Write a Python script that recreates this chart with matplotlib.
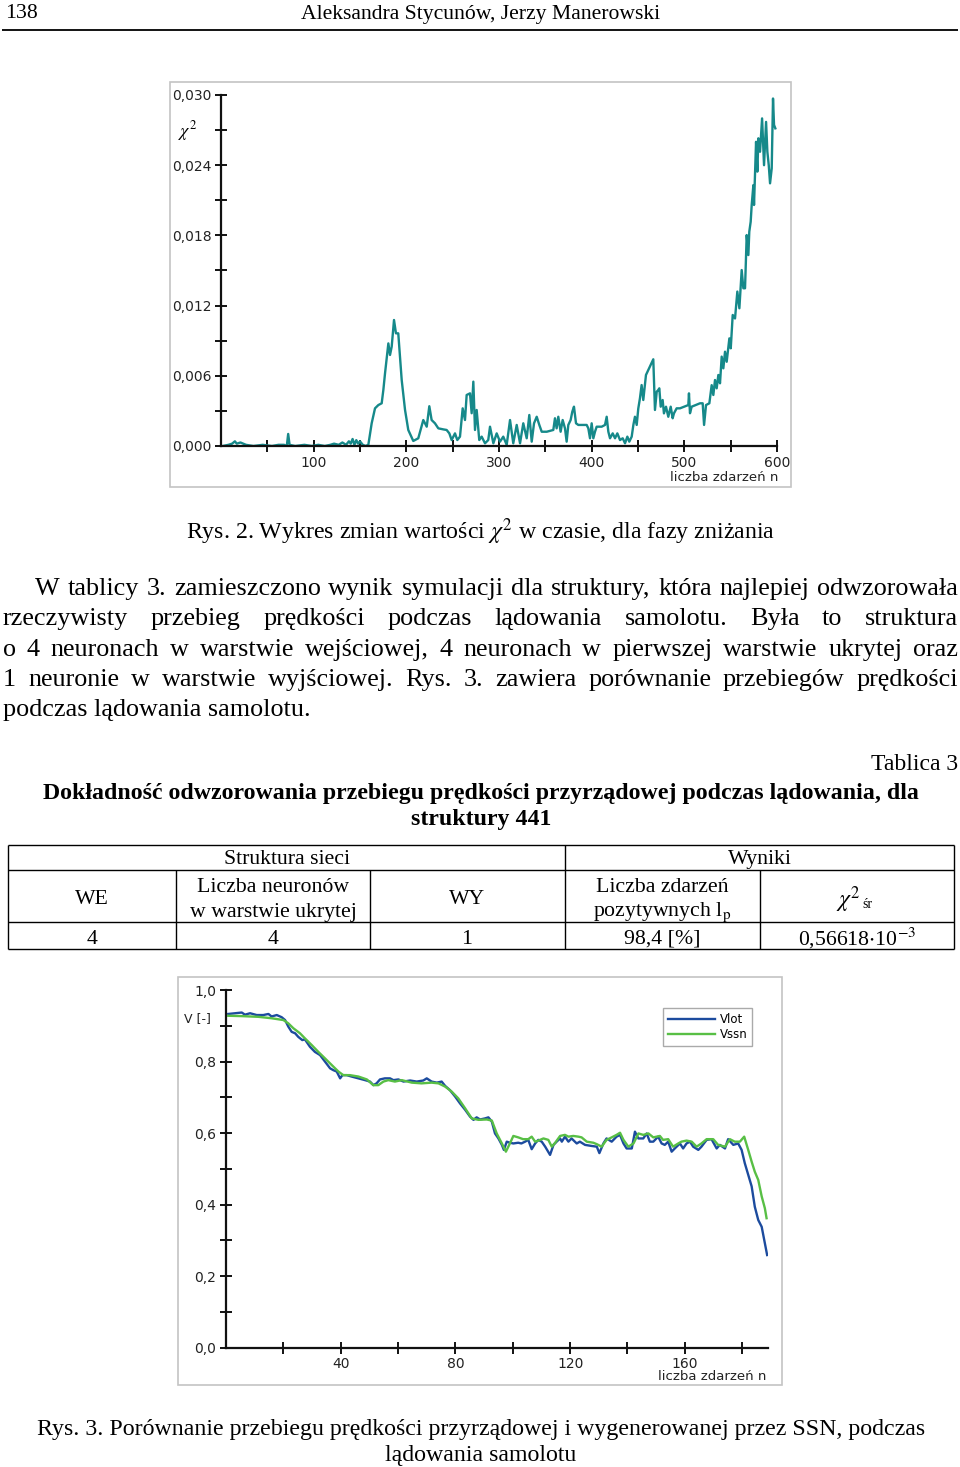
import matplotlib
matplotlib.use('Agg')
import matplotlib.pyplot as plt
from matplotlib.patches import Rectangle
from matplotlib.lines import Line2D
from matplotlib.ticker import FixedLocator, FuncFormatter

# ---------------- data ----------------
top_n = [2, 8, 12, 15, 17, 21, 27, 35, 45, 55, 62, 68, 71, 72.5, 74, 80, 90, 98, 105, 112,
         118, 122, 127, 131, 135, 138, 140, 142, 144, 146, 148, 150, 153, 156, 159,
         162.6, 166.2, 169.8, 173.4, 175.2, 177, 180.6, 182.4, 184.2, 186.7, 188.8, 191.3,
         193.2, 195, 198.6, 202.1, 207.5, 212.9, 218.3, 222, 224.8, 227.3, 230.9, 234.5,
         239.9, 243.5, 246.4, 248.9, 252.5, 255, 257.9, 260.8, 263.3, 265.1, 268.7, 270.5,
         272.3, 274.1, 275.9, 278.7, 281.3, 284.9, 288.4,
         290.3, 293.9, 297.5, 301.1, 304.6, 308.3, 311.9, 315.4, 319.1, 322.7, 326.2, 329.9,
         332.7, 335.3, 337.8, 340.7, 343.5, 346.1, 351.5,
         358.6, 360.4, 362.2, 364, 366.5, 368.7, 371.2, 373, 374.8, 377.3, 379.1, 380.9,
         383.1, 385.6, 394.6, 396.4, 398.2, 400, 401.8, 403.6, 405.4, 410.8, 414.4, 416.2,
         418, 419.8, 422.7, 425.2, 427.7, 430.6, 433.5, 436, 438.5, 440.6, 443.2, 445,
         446.7, 448.6, 450.3, 452.1, 453.9, 455.7, 458.6, 461.1, 466.5, 468.3, 470.2, 471.9,
         473, 474.5, 476.6, 478, 480.2, 482.7, 485.3, 487.4, 488.8, 491.7, 495.3, 504.3,
         505, 506.1, 507.9, 516.9,
         519.8, 521.3, 523.4, 527, 529.5, 531.3, 533.1, 534.9, 536.7, 538.5, 540.3, 542.1,
         543.9, 545.7, 548.6, 550.1, 552.2, 554.7, 557.2, 559.4, 561.9, 563.7, 565.5, 567.3,
         569.1, 570.1, 571.6, 572.7, 574.5, 575.2, 577.4, 578.8, 579.9, 581.7, 583.9, 586,
         588.2, 589.6, 591.1, 592.5, 594.3, 595.7, 596.8, 598.2]
top_chi2 = [0, 0.0001, 0.0002, 0.0004, 0.0002, 0.0003, 0.0001, 0, 0.0001, 0, 0.0001, 0.0001,
            0, 0.00103, 0.0001, 0, 0.0001, 0, 0.0001, 0, 0.0001, 0.0002, 0.0001, 0.0003,
            0.0001, 0.0004, 0.0002, 0.0006, 0.0001, 0.0005, 0.0002, 0.0004, 0.0001, 0, 0.0001,
            0.00194, 0.00322, 0.0035, 0.00365, 0.00479, 0.00621, 0.00877, 0.00778, 0.00849,
            0.01077, 0.00963, 0.00963, 0.00764, 0.00564, 0.00308, 0.00137, 0.00043, 0.00066,
            0.00222, 0.00165, 0.0034, 0.00222, 0.00194, 0.00151, 0.00142, 0.00137, 0.00108,
            0.00051, 0.00108, 0.00051, 0.0008, 0.00322, 0.00222, 0.00436, 0.0045, 0.0028,
            0.0055, 0.00137, 0.00308, 0.00051, 0.0008, 0.00023, 0.00051,
            0.00165, 0.00023, 0.00108, 0.00037, 0.0008, 0.0001, 0.00222, 0.00023, 0.0018,
            0.00023, 0.00194, 0.00066, 0.00265, 0.00037, 0.00194, 0.0025, 0.0018, 0.00122,
            0.00122,
            0.00137, 0.00237, 0.00151, 0.0025, 0.00122, 0.00222, 0.00151, 0.00037, 0.0018,
            0.00222, 0.00293, 0.00336, 0.00194, 0.0018, 0.0018, 0.00151, 0.00066, 0.00194,
            0.00066, 0.00122, 0.00165, 0.00165, 0.0018, 0.0025, 0.00122, 0.00066, 0.00108,
            0.00066, 0.00108, 0.00051, 0.00066, 0.00023, 0.0008, 0.00037, 0.0008, 0.0018,
            0.0025, 0.0018, 0.0032, 0.00408, 0.00521, 0.00393, 0.00607, 0.0065, 0.00741,
            0.00308, 0.00464, 0.00479, 0.00493, 0.00336, 0.00393, 0.00279, 0.00336, 0.0025,
            0.00336, 0.00237, 0.00279, 0.00322, 0.00322, 0.0035, 0.0045, 0.0028, 0.00336,
            0.00365,
            0.00365, 0.0018, 0.0035, 0.00365, 0.0052, 0.00436, 0.00564, 0.00493, 0.00607,
            0.00536, 0.00764, 0.00664, 0.00806, 0.0072, 0.0092, 0.00835, 0.0112, 0.0109,
            0.0132, 0.01177, 0.01504, 0.01348, 0.01348, 0.01803, 0.01632, 0.01832, 0.01917,
            0.0206, 0.0223, 0.0206, 0.026, 0.02345, 0.0263, 0.02515, 0.028, 0.024, 0.0277,
            0.02515, 0.024, 0.02245, 0.02373, 0.0297, 0.02744, 0.02715]

vlot_n = [0.8, 3.1, 5.5, 6.6, 8.4, 10.7, 13, 14.8, 15.9, 17.7, 19.4, 20.6, 21.7, 22.9, 24.1,
          25.2, 26.6, 27.5, 29.3, 31, 32.8, 34.5, 36.3, 37.4, 38.6, 39.8, 40.6, 42.1, 43.8,
          46.2, 48.5, 50.2, 51.4, 52.5, 53.7, 55.4, 57.2, 58.4, 60.1, 61.9, 64.2, 66.5, 68.8,
          70, 71.7, 73.5, 75.2, 76.4, 78.1, 79.9, 81.6, 83.4, 85.1, 86.3, 87.4, 88.6,
          90.3, 91.5, 92.7, 93.8, 95, 96.2, 96.9, 97.9, 99, 100.2, 101.9, 103, 104.3, 105.4,
          106.6, 107.8, 108.9, 110.1, 111.3, 113, 114.2, 115.3, 116.5, 117.1, 118.2, 119.4,
          120.5, 122.3, 123.4, 125.2, 127.5, 129.3, 130.2, 131.6, 132.7, 134.5, 136.2, 137.4,
          138.6, 139.7, 141.5, 142.6, 143.8, 145.5, 146.7, 147.8, 149, 150.7, 151.9, 153,
          154.2, 155.4, 156.5, 158.3, 159.4, 160.6, 161.8, 162.9, 164.7, 165.8, 167.6, 169.3,
          171.1, 172.2, 174, 175.1, 176.9, 178.6, 179.8, 180.9, 182.1, 183.3, 184.4, 185.6,
          186.8, 187.9, 188.7]
vlot = [0.933, 0.935, 0.937, 0.931, 0.935, 0.930, 0.930, 0.933, 0.926, 0.930, 0.924, 0.916,
        0.898, 0.883, 0.879, 0.869, 0.860, 0.862, 0.841, 0.827, 0.818, 0.800, 0.781, 0.776,
        0.772, 0.753, 0.762, 0.762, 0.758, 0.753, 0.748, 0.744, 0.734, 0.739, 0.750, 0.753,
        0.753, 0.748, 0.750, 0.744, 0.747, 0.744, 0.747, 0.753, 0.744, 0.741, 0.744, 0.732,
        0.720, 0.702, 0.683, 0.665, 0.646, 0.637, 0.644, 0.638,
        0.641, 0.644, 0.632, 0.599, 0.585, 0.567, 0.553, 0.576, 0.573, 0.571, 0.573, 0.571,
        0.576, 0.581, 0.555, 0.571, 0.581, 0.576, 0.562, 0.539, 0.567, 0.576, 0.585, 0.576,
        0.590, 0.576, 0.585, 0.571, 0.576, 0.567, 0.564, 0.562, 0.544, 0.571, 0.585, 0.576,
        0.590, 0.595, 0.571, 0.557, 0.557, 0.604, 0.585, 0.585, 0.599, 0.576, 0.576, 0.590,
        0.571, 0.567, 0.576, 0.548, 0.557, 0.571, 0.557, 0.571, 0.576, 0.562, 0.553, 0.562,
        0.581, 0.583, 0.557, 0.567, 0.557, 0.583, 0.567, 0.571, 0.553, 0.516, 0.483, 0.451,
        0.394, 0.357, 0.338, 0.292, 0.259]

vssn_n = [0.8, 5.5, 11.3, 15.9, 20, 21.7, 23.5, 25.8, 27.5, 29.9, 32.2, 34.5, 36.9, 39.2, 40.9,
          43.2, 46.2, 49.1, 51.4, 53.1, 54.9, 56.6, 58.9, 61.3, 64.8, 68.2, 71.7, 74.1, 76.4,
          78.7, 81, 83.4, 85.7, 88,
          90.9, 92.7, 94.4, 96.2, 97.6, 99, 100.2, 101.9, 103.6, 105.4, 106.6, 107.8, 108.9,
          110.7, 112.4, 113.6, 114.8, 116.5, 118.2, 119.4, 121.1, 122.9, 124, 125.8, 128.1,
          129.3, 131, 132.7, 134.5, 136.2, 137.4, 138.6, 140.3, 142.1, 143.8, 145.5, 147.3,
          149, 151.3, 152.4, 154.2, 155.9, 157.7, 158.8, 160.6, 162.4, 164.1, 165.8, 167.6,
          169.9, 171.6, 174, 175.7, 177.4, 179.2, 180.7, 182.1, 183.3, 184.4, 185.6, 186.8,
          187.9, 188.5]
vssn = [0.928, 0.927, 0.925, 0.921, 0.916, 0.907, 0.893, 0.879, 0.865, 0.846, 0.827, 0.809,
        0.790, 0.772, 0.762, 0.762, 0.758, 0.750, 0.734, 0.734, 0.744, 0.748, 0.744, 0.748,
        0.741, 0.739, 0.741, 0.739, 0.730, 0.716, 0.697, 0.669, 0.641, 0.637,
        0.638, 0.635, 0.599, 0.571, 0.548, 0.571, 0.592, 0.588, 0.583, 0.583, 0.590, 0.576,
        0.579, 0.585, 0.581, 0.562, 0.573, 0.592, 0.595, 0.590, 0.592, 0.590, 0.588, 0.576,
        0.573, 0.569, 0.562, 0.581, 0.588, 0.595, 0.601, 0.581, 0.562, 0.571, 0.599, 0.595,
        0.599, 0.588, 0.592, 0.581, 0.583, 0.562, 0.571, 0.576, 0.579, 0.576, 0.562, 0.571,
        0.583, 0.583, 0.567, 0.562, 0.583, 0.576, 0.576, 0.590, 0.553, 0.520, 0.492, 0.469,
        0.423, 0.390, 0.362]

top_yticks = [0.000, 0.006, 0.012, 0.018, 0.024, 0.030]
top_xticks = [100, 200, 300, 400, 500, 600]
bot_yticks = [0.0, 0.2, 0.4, 0.6, 0.8, 1.0]
bot_xticks = [40, 80, 120, 160]
series_labels = ['Vlot', 'Vssn']

body_lines = [
    "W tablicy 3. zamieszczono wynik symulacji dla struktury, która najlepiej odwzorowała",
    "rzeczywisty przebieg prędkości podczas lądowania samolotu. Była to struktura",
    "o 4 neuronach w warstwie wejściowej, 4 neuronach w pierwszej warstwie ukrytej oraz",
    "1 neuronie w warstwie wyjściowej. Rys. 3. zawiera porównanie przebiegów prędkości",
    "podczas lądowania samolotu.",
]

# ---------------- figure ----------------
W, H = 960, 1467
fig = plt.figure(figsize=(9.6, 14.67), dpi=100)
SERIF = 'Liberation Serif'
SANS = 'DejaVu Sans'
FS_BODY = 18.8
FS_CAP = 17.2
FS_TAB = 15.7
FS_HEAD = 15.6


def fx(x):
    return x / W


def fy(y):
    return 1 - y / H


def ftext(x, y, s, **kw):
    kw.setdefault('family', SERIF)
    kw.setdefault('fontsize', FS_BODY)
    kw.setdefault('va', 'center')
    kw.setdefault('math_fontfamily', 'stix')
    return fig.text(fx(x), fy(y), s, **kw)


def hline(x0, x1, y, lw=1.0, color='black'):
    fig.add_artist(Line2D([fx(x0), fx(x1)], [fy(y), fy(y)], transform=fig.transFigure,
                          color=color, lw=lw, solid_capstyle='butt'))


def vline(x, y0, y1, lw=1.0, color='black'):
    fig.add_artist(Line2D([fx(x), fx(x)], [fy(y0), fy(y1)], transform=fig.transFigure,
                          color=color, lw=lw, solid_capstyle='butt'))


def frame(x0, y0, x1, y1):
    fig.add_artist(Rectangle((fx(x0), fy(y1)), (x1 - x0) / W, (y1 - y0) / H,
                             transform=fig.transFigure, fill=False,
                             edgecolor='#c4c4c4', lw=1.2))


def style_axes(ax, xmaj, xmin_, ymaj, ymin_, fmt):
    for s in ('top', 'right'):
        ax.spines[s].set_visible(False)
    for s in ('left', 'bottom'):
        ax.spines[s].set_linewidth(1.6)
        ax.spines[s].set_color('#111111')
    ax.xaxis.set_major_locator(FixedLocator(xmaj))
    ax.xaxis.set_minor_locator(FixedLocator(xmin_))
    ax.yaxis.set_major_locator(FixedLocator(ymaj))
    ax.yaxis.set_minor_locator(FixedLocator(ymin_))
    ax.yaxis.set_major_formatter(FuncFormatter(fmt))
    ax.tick_params(which='both', direction='inout', length=9, width=1.4, color='#111111')
    ax.tick_params(which='major', labelsize=10, labelcolor='#222222', pad=2.5)
    ax.patch.set_alpha(0)


# header
ftext(5, 14, "138", ha='left', fontsize=FS_HEAD)
ftext(481, 14, "Aleksandra Stycunów, Jerzy Manerowski", ha='center', fontsize=FS_HEAD)
hline(2, 958, 30, lw=1.3)

# ---- top chart ----
frame(170, 82, 791, 487)
ax1 = fig.add_axes([fx(221), fy(446), (777 - 221) / W, (446 - 95) / H])
ax1.plot(top_n, top_chi2, color='#16898a', lw=1.7)
ax1.set_xlim(0, 600)
ax1.set_ylim(0, 0.030)
style_axes(ax1, top_xticks, [50, 150, 250, 350, 450, 550],
           top_yticks, [0.003, 0.009, 0.015, 0.021, 0.027],
           lambda v, p: f"{v:.3f}".replace('.', ','))
ax1.xaxis.set_major_formatter(FuncFormatter(lambda v, p: f"{v:.0f}"))
fig.text(fx(188), fy(131), r'$\chi^2$', fontsize=13, ha='center', va='center',
         math_fontfamily='stix')
fig.text(fx(778), fy(478), 'liczba zdarzeń n', family=SANS, fontsize=9.5,
         ha='right', va='center', color='#222222')

ftext(481, 532, r"Rys. 2. Wykres zmian wartości $\chi^{2}$ w czasie, dla fazy zniżania",
      ha='center', fontsize=FS_CAP)

# ---- body paragraph (justified) ----
fig.canvas.draw()
renderer = fig.canvas.get_renderer()


def justify(line, x0, x1, y, **kw):
    words = line.split(' ')
    texts = [ftext(0, y, w, ha='left', **kw) for w in words]
    widths = [t.get_window_extent(renderer).width for t in texts]
    gap = (x1 - x0 - sum(widths)) / (len(words) - 1)
    x = x0
    for t, w in zip(texts, widths):
        t.set_position((fx(x), fy(y)))
        x += w + gap


body_y = [589, 619, 650, 680, 710]
justify(body_lines[0], 35, 958, body_y[0])
for i in (1, 2, 3):
    justify(body_lines[i], 3, 958, body_y[i])
ftext(3, body_y[4], body_lines[4], ha='left')

# ---- table ----
ftext(958, 765, "Tablica 3", ha='right', fontsize=17)
ftext(481, 793, "Dokładność odwzorowania przebiegu prędkości przyrządowej podczas lądowania, dla",
      ha='center', weight='bold', fontsize=FS_CAP)
ftext(481, 820, "struktury 441", ha='center', weight='bold', fontsize=FS_CAP)

for y in (845, 870, 922, 949):
    hline(8, 954, y, lw=1.0)
for x in (8, 565, 954):
    vline(x, 845, 949, lw=1.0)
for x in (176, 370, 760):
    vline(x, 870, 949, lw=1.0)

T = dict(ha='center', fontsize=FS_TAB)
ftext(287, 860, "Struktura sieci", **T)
ftext(760, 860, "Wyniki", **T)
ftext(92, 899, "WE", **T)
ftext(273, 887, "Liczba neuronów", **T)
ftext(273, 912, "w warstwie ukrytej", **T)
ftext(467, 899, "WY", **T)
ftext(662, 887, "Liczba zdarzeń", **T)
ftext(662, 912, r"pozytywnych l$_{\mathrm{p}}$", **T)
ftext(848, 900, r"$\chi^{2}$", ha='center', fontsize=17)
ftext(867, 905, "śr", ha='center', fontsize=10)
ftext(92, 939, "4", **T)
ftext(273, 939, "4", **T)
ftext(467, 939, "1", **T)
ftext(662, 939, "98,4 [%]", **T)
ftext(857, 938, r"0,56618$\cdot$10$^{-3}$", **T)

# ---- bottom chart ----
frame(178, 977, 782, 1385)
ax2 = fig.add_axes([fx(226), fy(1347.7), (768 - 226) / W, (1347.7 - 990) / H])
l1, = ax2.plot(vlot_n, vlot, color='#1c4b9e', lw=1.7, label=series_labels[0])
l2, = ax2.plot(vssn_n, vssn, color='#58bf45', lw=1.7, label=series_labels[1])
ax2.set_xlim(0, 189)
ax2.set_ylim(0, 1.0)
style_axes(ax2, bot_xticks, [20, 60, 100, 140, 180],
           bot_yticks, [0.1, 0.3, 0.5, 0.7, 0.9],
           lambda v, p: f"{v:.1f}".replace('.', ','))
ax2.xaxis.set_major_formatter(FuncFormatter(lambda v, p: f"{v:.0f}"))
fig.text(fx(197), fy(1019), 'V [-]', family=SANS, fontsize=9, ha='center', va='center',
         color='#222222')
fig.text(fx(766), fy(1377), 'liczba zdarzeń n', family=SANS, fontsize=9.5,
         ha='right', va='center', color='#222222')
leg = fig.legend(handles=[l1, l2], loc='upper left', bbox_to_anchor=(fx(663), fy(1008)),
                 bbox_transform=fig.transFigure, fontsize=8.5, frameon=True, fancybox=False,
                 edgecolor='#aaaaaa', framealpha=1, handlelength=4.0, handletextpad=0.4,
                 borderpad=0.4, labelspacing=0.2, borderaxespad=0)
leg.get_frame().set_linewidth(1.0)
for t in leg.get_texts():
    t.set_family(SANS)

ftext(481, 1429, "Rys. 3. Porównanie przebiegu prędkości przyrządowej i wygenerowanej przez SSN, podczas",
      ha='center', fontsize=FS_CAP)
ftext(481, 1456, "lądowania samolotu", ha='center', fontsize=FS_CAP)

fig.savefig('out.png', dpi=100)
